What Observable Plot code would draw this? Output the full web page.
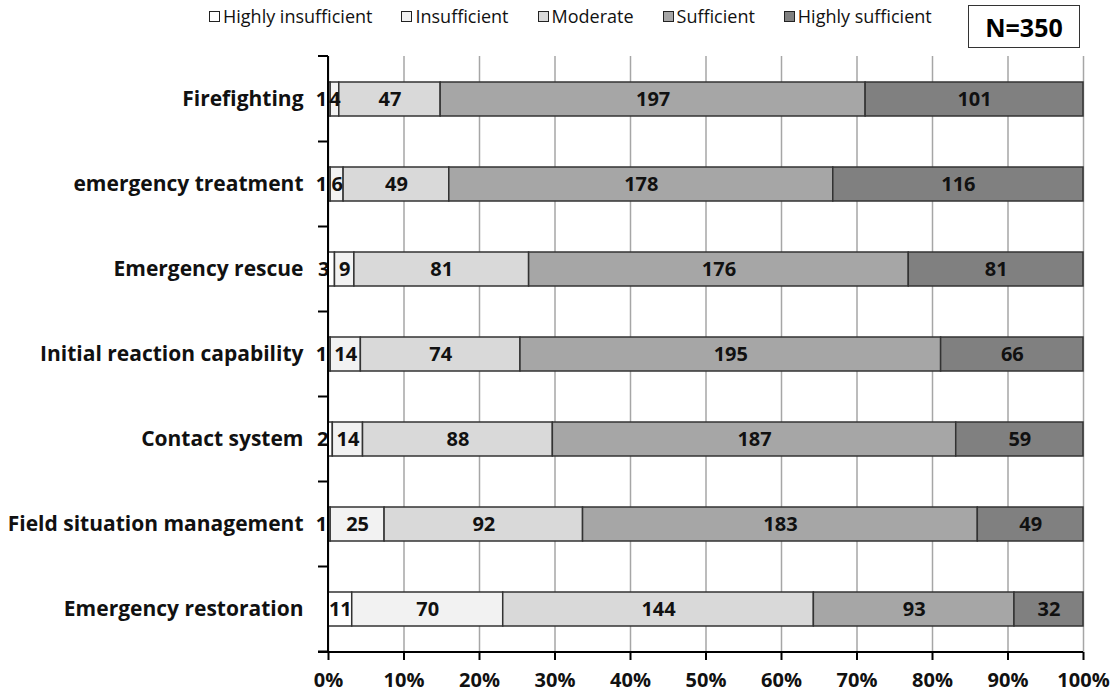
<!DOCTYPE html>
<html>
<head>
<meta charset="utf-8">
<script src="https://cdn.jsdelivr.net/npm/d3@7"></script>
<script src="https://cdn.jsdelivr.net/npm/@observablehq/plot@0.6"></script>
<style>
  body { margin: 0; background: #fff; font-family: "Open Sans", sans-serif; }
  #wrap { position: relative; width: 1117px; height: 696px; }
  #legend { position: absolute; left: 209px; top: 4px; display: flex; gap: 29px; font-size: 18px; color: #111; }
  #legend .item { display: flex; align-items: center; gap: 3px; }
  #legend .sw { width: 11px; height: 11px; border: 1px solid #222; box-sizing: border-box; }
  #nbox { position: absolute; left: 968px; top: 5px; width: 112px; height: 43px; border: 1.5px solid #333; box-sizing: border-box;
          display: flex; align-items: center; justify-content: center; font-weight: bold; font-size: 25px; background: #fff; }
  svg text { fill: #111; }
</style>
</head>
<body>
<div id="wrap">
  <div id="chart"></div>
  <div id="legend"></div>
  <div id="nbox">N=350</div>
</div>
<script>
const categories = ["Firefighting", "emergency treatment", "Emergency rescue", "Initial reaction capability", "Contact system", "Field situation management", "Emergency restoration"];
const series = ["Highly insufficient", "Insufficient", "Moderate", "Sufficient", "Highly sufficient"];
const highlyInsufficient = [1, 1, 3, 1, 2, 1, 11];
const insufficient = [4, 6, 9, 14, 14, 25, 70];
const moderate = [47, 49, 81, 74, 88, 92, 144];
const sufficient = [197, 178, 176, 195, 187, 183, 93];
const highlySufficient = [101, 116, 81, 66, 59, 49, 32];
const seriesColors = ["#ffffff", "#f2f2f2", "#d9d9d9", "#a6a6a6", "#808080"];
const xTicks = [0, 0.1, 0.2, 0.3, 0.4, 0.5, 0.6, 0.7, 0.8, 0.9, 1];
const sampleLabel = "N=350";

const seriesValues = [highlyInsufficient, insufficient, moderate, sufficient, highlySufficient];
const data = [];
categories.forEach((c, i) => {
  series.forEach((s, j) => data.push({category: c, series: s, value: seriesValues[j][i]}));
});
const isSmallFirst = d => d.series === series[0] && d.value < 5;

// legend
const legend = document.getElementById("legend");
series.forEach((s, j) => {
  const it = document.createElement("div"); it.className = "item";
  const sw = document.createElement("div"); sw.className = "sw"; sw.style.background = seriesColors[j];
  const t = document.createElement("span"); t.textContent = s;
  it.appendChild(sw); it.appendChild(t); legend.appendChild(it);
});
document.getElementById("nbox").textContent = sampleLabel;

function axesLines(index, scales, values, dims) {
  const {width, height, marginLeft, marginRight, marginTop, marginBottom} = dims;
  const y = scales.y;
  const step = y.step(), bw = y.bandwidth();
  const g = d3.create("svg:g").attr("stroke", "#000");
  const bounds = [marginTop].concat(categories.map(c => y(c) + bw + (step - bw) / 2));
  bounds.forEach(b => g.append("line").attr("x1", marginLeft - 10).attr("x2", marginLeft).attr("y1", b).attr("y2", b).attr("stroke-width", 2));
  g.append("line").attr("x1", marginLeft).attr("x2", marginLeft).attr("y1", marginTop).attr("y2", height - marginBottom).attr("stroke-width", 2);
  g.append("line").attr("x1", marginLeft - 10).attr("x2", width - marginRight).attr("y1", height - marginBottom).attr("y2", height - marginBottom).attr("stroke-width", 2);
  return g.node();
}

const chart = Plot.plot({
  width: 1117,
  height: 696,
  marginLeft: 328,
  marginRight: 34,
  marginTop: 56,
  marginBottom: 44,
  style: {fontFamily: "'Open Sans', sans-serif", fontSize: "20px", fontWeight: "bold", background: "transparent"},
  x: {domain: [0, 1]},
  y: {domain: categories, paddingInner: 0.6, paddingOuter: 0.3},
  color: {domain: series, range: seriesColors},
  marks: [
    Plot.gridX(xTicks, {stroke: "#a6a6a6", strokeOpacity: 1, strokeWidth: 1.5}),
    Plot.barX(data, Plot.stackX({x: "value", y: "category", z: "series", fill: "series", offset: "normalize", order: null, stroke: "#333", strokeWidth: 1.5})),
    Plot.text(data, Plot.stackX({x: "value", y: "category", z: "series", offset: "normalize", order: null,
      text: d => isSmallFirst(d) ? "" : String(d.value), fontSize: 20, fontWeight: "bold"})),
    Plot.text(data, Plot.stackX({x: "value", y: "category", z: "series", offset: "normalize", order: null,
      text: d => isSmallFirst(d) ? String(d.value) : "", dx: -8, fontSize: 20, fontWeight: "bold"})),
    Plot.axisX(xTicks, {tickFormat: d3.format(".0%"), tickSize: 8, tickPadding: 12, label: null, strokeWidth: 2, stroke: "#000", fontSize: 20}),
    Plot.axisY({tickSize: 0, tickPadding: 25, label: null, fontSize: 21}),
    axesLines
  ]
});
document.getElementById("chart").appendChild(chart);
</script>
</body>
</html>
